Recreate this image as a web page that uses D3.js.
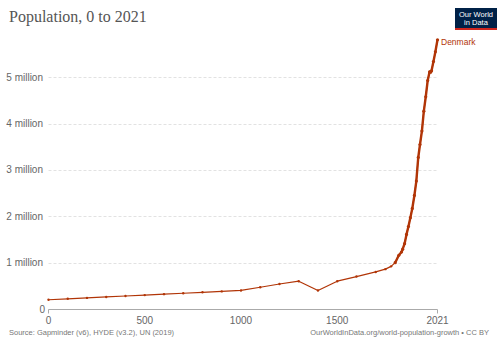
<!DOCTYPE html>
<html><head><meta charset="utf-8">
<script src="https://cdn.jsdelivr.net/npm/d3@7"></script>
<style>body{margin:0;background:#fff}svg{display:block}</style>
</head><body>
<script>
const years = [0,100,200,300,400,500,600,700,800,900,1000,1100,1200,1300,1400,1500,1600,1700,1750,1780,1801,1820,1834,1840,1850,1860,1870,1880,1890,1901,1911,1921,1930,1940,1950,1960,1970,1980,1985,1990,2000,2010,2021];
const population = [200000,220000,240000,260000,280000,300000,320000,340000,360000,380000,400000,470000,540000,600000,400000,600000,700000,800000,860000,920000,1000000,1160000,1230000,1290000,1410000,1610000,1780000,1970000,2170000,2450000,2760000,3270000,3550000,3840000,4270000,4580000,4930000,5120000,5110000,5140000,5340000,5550000,5810000];
const yTicks = [0,1000000,2000000,3000000,4000000,5000000];
const yTickLabels = ["0","1 million","2 million","3 million","4 million","5 million"];
const xTicks = [0,500,1000,1500,2021];
const seriesName = "Denmark";
const title = "Population, 0 to 2021";
const sourceText = "Source: Gapminder (v6), HYDE (v3.2), UN (2019)";
const urlText = "OurWorldInData.org/world-population-growth • CC BY";

const W=500,H=353;
const color="#b13507";
const svg=d3.select("body").append("svg").attr("width",W).attr("height",H);
const x=d3.scaleLinear().domain([0,2021]).range([48.5,437.5]);
const y=d3.scaleLinear().domain([0,5000000]).range([309,77.3]);

svg.append("text").attr("x",9).attr("y",22).text(title)
 .attr("font-family","Liberation Serif, serif").attr("font-size",16).attr("fill","#555");

// logo
const g0=svg.append("g").attr("transform","translate(455,8)");
g0.append("rect").attr("width",42).attr("height",22).attr("fill","#002147");
g0.append("rect").attr("y",20).attr("width",42).attr("height",2).attr("fill","#ce261e");
g0.append("text").attr("x",21).attr("y",9).attr("text-anchor","middle").attr("fill","#fff")
 .attr("font-family","Liberation Sans, Arial, sans-serif").attr("font-size",7.5).text("Our World");
g0.append("text").attr("x",21).attr("y",17).attr("text-anchor","middle").attr("fill","#fff")
 .attr("font-family","Liberation Sans, Arial, sans-serif").attr("font-size",7.5).text("in Data");

// gridlines
svg.append("g").selectAll("line").data(yTicks.slice(1)).join("line")
 .attr("x1",48.5).attr("x2",437.5).attr("y1",d=>Math.round(y(d))+0.5).attr("y2",d=>Math.round(y(d))+0.5)
 .attr("stroke","#e2e2e2").attr("stroke-dasharray","3,2").attr("stroke-width",1);
// y labels
svg.append("g").selectAll("text").data(yTicks).join("text")
 .attr("x",(d,i)=>i===0?45:43).attr("y",d=>y(d)+3.5).attr("text-anchor","end")
 .attr("font-family","Liberation Sans, Arial, sans-serif").attr("font-size",10).attr("fill","#666")
 .text((d,i)=>yTickLabels[i]);
// x axis
const xa=svg.append("g").attr("transform","translate(0,309.5)");
xa.append("line").attr("x1",48.5).attr("x2",437.5).attr("stroke","#aaa");
xa.selectAll("line.t").data([0,2021]).join("line").attr("class","t")
 .attr("x1",d=>x(d)).attr("x2",d=>x(d)).attr("y1",0).attr("y2",4).attr("stroke","#aaa");
xa.selectAll("text").data(xTicks).join("text")
 .attr("x",d=>x(d)).attr("y",14).attr("text-anchor","middle")
 .attr("font-family","Liberation Sans, Arial, sans-serif").attr("font-size",10).attr("fill","#666")
 .text(d=>d);

// line
const line=d3.line().x((d,i)=>x(years[i])).y(d=>y(d));
svg.append("path").datum(population).attr("d",line).attr("fill","none")
 .attr("stroke",color).attr("stroke-width",1.2).attr("stroke-linejoin","round");
svg.append("g").selectAll("circle").data(population).join("circle")
 .attr("cx",(d,i)=>x(years[i])).attr("cy",d=>y(d)).attr("r",(d,i)=>years[i]>=1800?1.6:1.2).attr("fill",color);
svg.append("path").datum(population.slice(20)).attr("d",d3.line().x((d,i)=>x(years[i+20])).y(d=>y(d)))
 .attr("fill","none").attr("stroke",color).attr("stroke-width",2.4).attr("stroke-linejoin","round");

svg.append("text").attr("x",441).attr("y",45).text(seriesName)
 .attr("font-family","Liberation Sans, Arial, sans-serif").attr("font-size",8.5).attr("fill",color);

svg.append("text").attr("x",9).attr("y",335).text(sourceText)
 .attr("font-family","Liberation Sans, Arial, sans-serif").attr("font-size",7.5).attr("fill","#777");
svg.append("text").attr("x",489).attr("y",335).attr("text-anchor","end").text(urlText)
 .attr("font-family","Liberation Sans, Arial, sans-serif").attr("font-size",7.5).attr("fill","#777");
</script>
</body></html>
